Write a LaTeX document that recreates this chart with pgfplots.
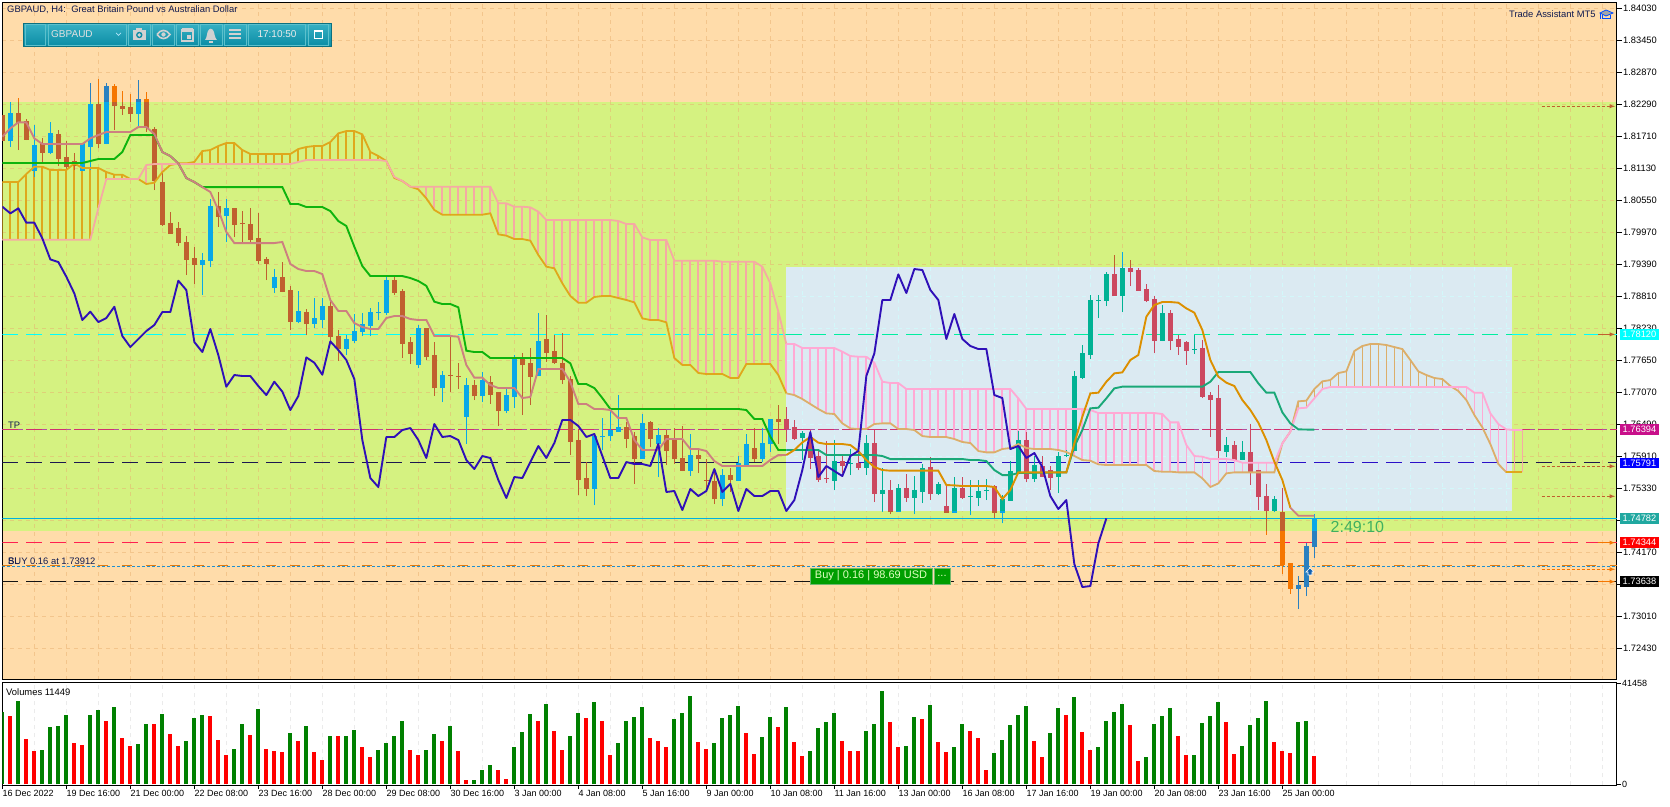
\documentclass[border=0pt]{standalone}
\usepackage{pgfplots}
\usepackage{pgfplotstable}
\usepackage{fontspec}
\setmainfont{Liberation Sans}
\pgfplotsset{compat=1.18}
\definecolor{bgor}{HTML}{FFDCAA}
\definecolor{bggr}{HTML}{D5F281}
\definecolor{bgrect}{HTML}{DBEAF2}
\definecolor{gridc}{HTML}{E8B070}
\definecolor{rgrid}{HTML}{D2F8FA}
\definecolor{gbull}{HTML}{09A8E8}
\definecolor{gbear}{HTML}{C0602F}
\definecolor{obull}{HTML}{2A80C0}
\definecolor{obear}{HTML}{F57600}
\definecolor{rbull}{HTML}{00B294}
\definecolor{rbear}{HTML}{CC4860}
\definecolor{chik}{HTML}{2F10B8}
\definecolor{tenk}{HTML}{CD8080}
\definecolor{tenkr}{HTML}{DC9000}
\definecolor{kij}{HTML}{0EB40E}
\definecolor{kijr}{HTML}{1AA878}
\definecolor{sgold}{HTML}{DFA81C}
\definecolor{stan}{HTML}{DCAE6A}
\definecolor{spink}{HTML}{F5AAA4}
\definecolor{spinkr}{HTML}{FFA9D4}
\definecolor{vgreen}{HTML}{008000}
\definecolor{vred}{HTML}{FF0000}
\definecolor{navytxt}{HTML}{101A50}
\definecolor{tba}{HTML}{3AB4C6}
\definecolor{tbb}{HTML}{0B8CA4}
\definecolor{tbc}{HTML}{0B7080}
\definecolor{tbd}{HTML}{34AEC2}
\definecolor{tbe}{HTML}{0D8EA6}
\definecolor{tbf}{HTML}{5CC0CC}
\definecolor{buyf}{HTML}{009E00}
\definecolor{buyd}{HTML}{70B870}
\definecolor{curs}{HTML}{1060B0}
\definecolor{cyanln}{HTML}{00FFFF}
\definecolor{cyanrc}{HTML}{00EEA0}
\definecolor{slnav}{HTML}{1C1850}
\definecolor{slblu}{HTML}{2A10C8}
\definecolor{tpa}{HTML}{B050A0}
\definecolor{tpb}{HTML}{D03070}
\definecolor{redln}{HTML}{FF2050}
\definecolor{blkln}{HTML}{141414}
\definecolor{buyo}{HTML}{E07A10}
\definecolor{buyb}{HTML}{2090D0}
\definecolor{curln}{HTML}{00B0E0}
\definecolor{cdtxt}{HTML}{40B060}
\definecolor{buytx}{HTML}{E0FFC0}
\pgfplotstableread{
x open high low close
0 1.82096 1.82096 1.81630 1.81630
1 1.81630 1.82331 1.81522 1.82132
2 1.82132 1.82398 1.81461 1.81969
3 1.81987 1.82023 1.81642 1.81660
4 1.81099 1.81914 1.80978 1.81552
5 1.81582 1.81679 1.81219 1.81425
6 1.81425 1.81969 1.81389 1.81769
7 1.81751 1.81824 1.81171 1.81316
8 1.81334 1.81624 1.81099 1.81171
9 1.81262 1.81401 1.81099 1.81189
10 1.81099 1.81582 1.81080 1.81582
11 1.81534 1.82670 1.81099 1.82295
12 1.82295 1.82742 1.81491 1.81588
13 1.81588 1.82670 1.81570 1.82621
14 1.82621 1.82657 1.81824 1.82259
15 1.82259 1.82531 1.82096 1.82222
16 1.82240 1.82476 1.81969 1.82132
17 1.82132 1.82730 1.81884 1.82386
18 1.82386 1.82512 1.81793 1.81878
19 1.81842 1.81884 1.80736 1.80917
20 1.80881 1.81038 1.80084 1.80120
21 1.80138 1.80337 1.79951 1.79957
22 1.80047 1.80156 1.79721 1.79794
23 1.79794 1.79902 1.79195 1.79485
24 1.79503 1.79703 1.79032 1.79395
25 1.79395 1.79594 1.78833 1.79467
26 1.79467 1.80573 1.79340 1.80446
27 1.80446 1.80700 1.80071 1.80265
28 1.80283 1.80573 1.79794 1.80410
29 1.80410 1.80410 1.79884 1.80120
30 1.80132 1.80355 1.79794 1.80131
31 1.80120 1.80410 1.79794 1.79848
32 1.79866 1.80319 1.79395 1.79467
33 1.79485 1.79522 1.79105 1.79413
34 1.78978 1.79304 1.78869 1.79159
35 1.79159 1.79431 1.78887 1.78905
36 1.78923 1.78996 1.78198 1.78362
37 1.78362 1.78905 1.78319 1.78543
38 1.78525 1.78573 1.78108 1.78325
39 1.78325 1.78773 1.78235 1.78416
40 1.78398 1.78773 1.78235 1.78634
41 1.78634 1.78742 1.77957 1.78090
42 1.78090 1.78198 1.77637 1.77872
43 1.77872 1.78108 1.77745 1.78035
44 1.78017 1.78488 1.77969 1.78180
45 1.78180 1.78507 1.78090 1.78307
46 1.78289 1.78597 1.78090 1.78525
47 1.78525 1.78706 1.78380 1.78525
48 1.78525 1.79195 1.78470 1.79105
49 1.79105 1.79195 1.78833 1.78887
50 1.78905 1.78942 1.77691 1.77963
51 1.77981 1.78072 1.77582 1.77782
52 1.77582 1.78289 1.77503 1.78235
53 1.78229 1.78229 1.77655 1.77716
54 1.77728 1.77981 1.77003 1.77148
55 1.77148 1.77456 1.76894 1.77383
56 1.77377 1.78108 1.77075 1.77376
57 1.77365 1.77601 1.77130 1.77364
58 1.76640 1.77329 1.76133 1.77202
59 1.77202 1.77293 1.76930 1.77003
60 1.77003 1.77438 1.76894 1.77275
61 1.77256 1.77365 1.76858 1.77039
62 1.77075 1.77075 1.76459 1.76731
63 1.76731 1.77166 1.76694 1.77003
64 1.76985 1.77746 1.76785 1.77691
65 1.77691 1.77782 1.76658 1.77565
66 1.77583 1.77873 1.76839 1.77365
67 1.77383 1.78507 1.77383 1.77999
68 1.78018 1.78471 1.77625 1.77800
69 1.77818 1.78108 1.77583 1.77601
70 1.77601 1.78145 1.77220 1.77293
71 1.77293 1.77365 1.75933 1.76187
72 1.76205 1.76386 1.75208 1.75498
73 1.75516 1.75806 1.75190 1.75335
74 1.75335 1.76296 1.75027 1.76260
75 1.76260 1.76604 1.76024 1.76260
76 1.76278 1.76731 1.76187 1.76386
77 1.76368 1.77021 1.76368 1.76441
78 1.76441 1.76531 1.76060 1.76241
79 1.76260 1.76350 1.75408 1.75861
80 1.75861 1.76676 1.75861 1.76513
81 1.76531 1.76549 1.76078 1.76241
82 1.76133 1.76423 1.75534 1.76296
83 1.76296 1.76386 1.75752 1.76024
84 1.76205 1.76423 1.75770 1.75861
85 1.75879 1.76459 1.75643 1.75661
86 1.75661 1.76314 1.75553 1.75933
87 1.75933 1.76024 1.75607 1.75861
88 1.75480 1.75861 1.75299 1.75479
89 1.75462 1.75679 1.75045 1.75136
90 1.75136 1.75679 1.75009 1.75553
91 1.75553 1.75698 1.75263 1.75498
92 1.75480 1.75915 1.75462 1.75788
93 1.75770 1.76314 1.75716 1.76115
94 1.76060 1.76423 1.75806 1.75861
95 1.75861 1.76423 1.75806 1.76151
96 1.76133 1.76586 1.75988 1.76586
97 1.76586 1.76839 1.76133 1.76549
98 1.76585 1.76803 1.76169 1.76422
99 1.76440 1.76567 1.76205 1.76241
100 1.76259 1.76368 1.75842 1.76332
101 1.76259 1.76386 1.75679 1.75897
102 1.75915 1.76024 1.75444 1.75498
103 1.75510 1.76187 1.75431 1.75509
104 1.75480 1.76205 1.75299 1.75824
105 1.75824 1.75915 1.75601 1.75752
106 1.75782 1.76036 1.75570 1.75782
107 1.75782 1.76024 1.75661 1.75715
108 1.75715 1.76295 1.75570 1.76150
109 1.76150 1.76386 1.75081 1.75244
110 1.75244 1.75697 1.74918 1.75299
111 1.75299 1.75480 1.74864 1.74918
112 1.74918 1.75407 1.74918 1.75335
113 1.75335 1.75589 1.75081 1.75172
114 1.75172 1.75552 1.74864 1.75299
115 1.75280 1.75770 1.75063 1.75697
116 1.75715 1.75897 1.75117 1.75244
117 1.75244 1.75444 1.75208 1.75407
118 1.75009 1.75389 1.74900 1.74900
119 1.74900 1.75534 1.74900 1.75335
120 1.75335 1.75534 1.75135 1.75172
121 1.75184 1.75480 1.74845 1.75184
122 1.75172 1.75480 1.75009 1.75280
123 1.75299 1.75498 1.75117 1.75299
124 1.75371 1.75389 1.74791 1.74900
125 1.74900 1.75208 1.74694 1.75129
126 1.75117 1.75824 1.75117 1.75643
127 1.75625 1.76368 1.75601 1.76205
128 1.76205 1.76350 1.75444 1.75516
129 1.75516 1.75915 1.75444 1.75752
130 1.75734 1.75915 1.75552 1.75552
131 1.75661 1.75734 1.75299 1.75534
132 1.75552 1.75987 1.75238 1.75915
133 1.75933 1.76024 1.75897 1.75933
134 1.76024 1.77456 1.76024 1.77365
135 1.77347 1.77927 1.77310 1.77782
136 1.77764 1.78833 1.77673 1.78742
137 1.78742 1.78833 1.78416 1.78742
138 1.78742 1.79250 1.78634 1.79214
139 1.79214 1.79558 1.78833 1.78833
140 1.78833 1.79612 1.78525 1.79322
141 1.79322 1.79467 1.78996 1.79268
142 1.79286 1.79322 1.78924 1.78924
143 1.78942 1.79032 1.78706 1.78742
144 1.78761 1.78815 1.77782 1.78017
145 1.78017 1.78652 1.77999 1.78507
146 1.78507 1.78561 1.77836 1.78017
147 1.78036 1.78108 1.77746 1.77909
148 1.77981 1.77999 1.77564 1.77836
149 1.77854 1.78108 1.77764 1.77854
150 1.77872 1.78017 1.76966 1.77002
151 1.77020 1.77075 1.76259 1.76948
152 1.76966 1.77202 1.75842 1.76024
153 1.76005 1.76259 1.75897 1.76114
154 1.76114 1.76187 1.75842 1.75860
155 1.75860 1.76187 1.75842 1.75987
156 1.75987 1.76495 1.75389 1.75643
157 1.75661 1.75661 1.74936 1.75190
158 1.75190 1.75407 1.74483 1.74936
159 1.74936 1.75190 1.74900 1.75135
160 1.74900 1.75335 1.73776 1.73957
161 1.73975 1.73975 1.73413 1.73522
162 1.73522 1.73740 1.73142 1.73570
163 1.73558 1.74338 1.73377 1.74283
164 1.74271 1.74864 1.74066 1.74782
}\candles
\pgfplotstableread{
x y
0 1.80434
1 1.80313
2 1.80404
3 1.80144
4 1.80144
5 1.79860
6 1.79479
7 1.79431
8 1.79165
9 1.78863
10 1.78380
11 1.78531
12 1.78343
13 1.78416
14 1.78621
15 1.78090
16 1.77890
17 1.78035
18 1.78180
19 1.78289
20 1.78525
21 1.78525
22 1.79093
23 1.78923
24 1.77981
25 1.77800
26 1.78217
27 1.77745
28 1.77171
29 1.77383
30 1.77365
31 1.77365
32 1.77183
33 1.77020
34 1.77262
35 1.77081
36 1.76748
37 1.77002
38 1.77703
39 1.77606
40 1.77389
41 1.77993
42 1.77836
43 1.77655
44 1.77310
45 1.76205
46 1.75516
47 1.75353
48 1.76259
49 1.76259
50 1.76386
51 1.76422
52 1.76205
53 1.75879
54 1.76495
55 1.76260
56 1.76278
57 1.76205
58 1.75843
59 1.75679
60 1.75915
61 1.75879
62 1.75480
63 1.75154
64 1.75534
65 1.75516
66 1.75806
67 1.76096
68 1.75879
69 1.76151
70 1.76568
71 1.76568
72 1.76459
73 1.76260
74 1.76314
75 1.75915
76 1.75516
77 1.75516
78 1.75806
79 1.75770
80 1.75770
81 1.75734
82 1.76133
83 1.75263
84 1.75281
85 1.74936
86 1.75317
87 1.75190
88 1.75281
89 1.75679
90 1.75263
91 1.75408
92 1.74918
93 1.75317
94 1.75190
95 1.75190
96 1.75281
97 1.75281
98 1.74918
99 1.75117
100 1.75661
101 1.76350
102 1.75534
103 1.75734
104 1.75643
105 1.75552
106 1.75915
107 1.76005
108 1.77365
109 1.77776
110 1.78742
111 1.78742
112 1.79208
113 1.78869
114 1.79304
115 1.79286
116 1.78924
117 1.78742
118 1.78036
119 1.78489
120 1.78036
121 1.77909
122 1.77854
123 1.77854
124 1.77020
125 1.76966
126 1.76042
127 1.76096
128 1.75879
129 1.75969
130 1.75715
131 1.75190
132 1.74954
133 1.75117
134 1.73957
135 1.73540
136 1.73558
137 1.74332
138 1.74785
}\chikou
\pgfplotstableread{
x y
0 1.81703
1 1.81854
2 1.81963
3 1.81963
4 1.81673
5 1.81570
10 1.81570
11 1.81673
12 1.81733
13 1.81787
16 1.81787
17 1.81878
18 1.81878
19 1.81751
20 1.81425
21 1.81352
22 1.81219
23 1.80954
24 1.80881
25 1.80790
26 1.80700
27 1.80374
28 1.79975
29 1.79775
34 1.79775
35 1.79794
36 1.79395
37 1.79304
38 1.79268
39 1.79268
40 1.79213
41 1.78742
42 1.78543
43 1.78543
44 1.78325
45 1.78253
46 1.78217
47 1.78217
48 1.78416
49 1.78452
50 1.78452
51 1.78398
52 1.78380
53 1.78380
54 1.78090
56 1.78090
57 1.78078
58 1.77565
59 1.77335
60 1.77335
61 1.77202
62 1.77148
64 1.77148
65 1.76966
66 1.76985
67 1.77492
70 1.77492
71 1.77256
72 1.76858
73 1.76858
74 1.76767
75 1.76767
76 1.76749
77 1.76604
78 1.76604
79 1.76205
80 1.76024
82 1.76024
83 1.76223
85 1.76223
86 1.76042
87 1.76042
88 1.76006
89 1.75824
90 1.75734
95 1.75734
96 1.75843
97 1.75933
98 1.75933
99 1.76024
100 1.76162
101 1.76259
102 1.76157
103 1.76132
105 1.76132
106 1.76114
107 1.76005
108 1.75842
109 1.75715
110 1.75661
111 1.75649
117 1.75649
118 1.75389
119 1.75383
120 1.75371
123 1.75371
124 1.75353
125 1.75135
126 1.75299
127 1.75619
133 1.75619
134 1.76144
135 1.76628
136 1.77051
137 1.77063
138 1.77262
139 1.77413
140 1.77431
141 1.77655
142 1.77746
143 1.78440
144 1.78652
145 1.78706
146 1.78706
147 1.78694
148 1.78591
149 1.78513
150 1.78199
151 1.77655
152 1.77353
153 1.77244
154 1.77184
155 1.76930
156 1.76749
157 1.76519
158 1.76205
159 1.75812
160 1.75480
161 1.74978
162 1.74833
164 1.74833
}\tenkan
\pgfplotstableread{
x y
0 1.81226
10 1.81226
11 1.81262
12 1.81298
14 1.81298
15 1.81425
16 1.81733
19 1.81733
20 1.81425
21 1.81352
22 1.81219
23 1.80954
24 1.80881
25 1.80790
35 1.80790
36 1.80482
37 1.80482
38 1.80428
40 1.80428
41 1.80355
42 1.80174
43 1.80084
44 1.79709
45 1.79358
46 1.79177
50 1.79177
51 1.79141
52 1.79087
53 1.78999
54 1.78712
55 1.78670
56 1.78670
57 1.78610
58 1.77824
59 1.77800
60 1.77800
61 1.77691
70 1.77691
71 1.77595
72 1.77220
73 1.77220
74 1.77148
75 1.76966
76 1.76767
92 1.76767
93 1.76749
94 1.76586
95 1.76586
96 1.76265
97 1.76024
98 1.76024
102 1.76024
103 1.75933
109 1.75933
110 1.75915
111 1.75860
120 1.75860
121 1.75842
122 1.75842
123 1.75824
124 1.75661
125 1.75570
126 1.75570
127 1.75607
133 1.75619
134 1.76084
135 1.76386
136 1.76779
137 1.76791
138 1.76960
139 1.77141
140 1.77172
150 1.77172
151 1.77262
152 1.77437
156 1.77437
157 1.77232
158 1.77063
159 1.77063
160 1.76706
161 1.76507
162 1.76398
164 1.76392
}\kijun
\pgfplotstableread{
x a b
0 1.80881 1.79836
1 1.80881 1.79836
2 1.80881 1.79836
3 1.81026 1.79836
4 1.81159 1.79836
5 1.81159 1.79836
6 1.81099 1.79836
7 1.81099 1.79836
8 1.81099 1.79836
9 1.81219 1.79836
10 1.81135 1.79836
11 1.81135 1.79836
12 1.81135 1.80404
13 1.81062 1.80936
14 1.81014 1.80936
15 1.81014 1.80936
16 1.80936 1.80936
17 1.80936 1.80936
18 1.80845 1.81189
19 1.80869 1.81207
20 1.81062 1.81207
21 1.81189 1.81207
22 1.81219 1.81207
23 1.81219 1.81207
24 1.81244 1.81207
25 1.81443 1.81207
26 1.81461 1.81207
27 1.81534 1.81207
28 1.81588 1.81207
29 1.81588 1.81207
30 1.81461 1.81207
31 1.81389 1.81207
32 1.81389 1.81207
33 1.81389 1.81207
34 1.81389 1.81207
35 1.81389 1.81207
36 1.81389 1.81207
37 1.81479 1.81244
38 1.81516 1.81280
39 1.81534 1.81280
40 1.81534 1.81280
41 1.81606 1.81280
42 1.81763 1.81280
43 1.81805 1.81280
44 1.81805 1.81280
45 1.81745 1.81280
46 1.81425 1.81280
47 1.81352 1.81280
48 1.81262 1.81262
49 1.80954 1.80972
50 1.80900 1.80900
51 1.80797 1.80797
52 1.80749 1.80797
53 1.80585 1.80797
54 1.80374 1.80797
55 1.80289 1.80797
56 1.80289 1.80797
57 1.80289 1.80797
58 1.80289 1.80797
59 1.80289 1.80797
60 1.80289 1.80797
61 1.80314 1.80797
62 1.79933 1.80495
63 1.79909 1.80495
64 1.79848 1.80434
65 1.79848 1.80434
66 1.79818 1.80422
67 1.79558 1.80344
68 1.79347 1.80193
69 1.79317 1.80193
70 1.79045 1.80193
71 1.78815 1.80193
72 1.78694 1.80193
73 1.78694 1.80193
74 1.78797 1.80193
75 1.78815 1.80193
76 1.78815 1.80193
77 1.78779 1.80175
78 1.78743 1.80120
79 1.78700 1.80120
80 1.78410 1.79878
81 1.78380 1.79830
82 1.78380 1.79830
83 1.78338 1.79830
84 1.77691 1.79456
85 1.77565 1.79456
86 1.77565 1.79456
87 1.77420 1.79456
88 1.77401 1.79456
89 1.77401 1.79456
90 1.77401 1.79437
91 1.77329 1.79437
92 1.77329 1.79437
93 1.77583 1.79437
94 1.77583 1.79437
95 1.77583 1.79347
96 1.77583 1.79045
97 1.77383 1.78531
98 1.77051 1.77945
99 1.77020 1.77945
100 1.76948 1.77872
101 1.76857 1.77872
102 1.76767 1.77872
103 1.76688 1.77872
104 1.76676 1.77872
105 1.76507 1.77806
106 1.76416 1.77727
107 1.76404 1.77715
108 1.76404 1.77715
109 1.76495 1.77607
110 1.76507 1.77262
111 1.76507 1.77238
112 1.76404 1.77238
113 1.76404 1.77129
114 1.76386 1.77129
115 1.76277 1.77129
116 1.76259 1.77129
117 1.76259 1.77129
118 1.76259 1.77129
119 1.76223 1.77129
120 1.76169 1.77129
121 1.76150 1.77129
122 1.76005 1.77129
123 1.75981 1.77129
124 1.75981 1.77129
125 1.76042 1.77129
126 1.76060 1.77129
127 1.76132 1.76960
128 1.76060 1.76767
129 1.76042 1.76767
130 1.76042 1.76767
131 1.76042 1.76767
132 1.76024 1.76767
133 1.75987 1.76767
134 1.75915 1.76767
135 1.75842 1.76767
136 1.75830 1.76749
137 1.75764 1.76694
138 1.75752 1.76694
139 1.75752 1.76694
140 1.75752 1.76694
141 1.75752 1.76694
142 1.75752 1.76694
143 1.75752 1.76694
144 1.75643 1.76694
145 1.75631 1.76676
146 1.75631 1.76525
147 1.75619 1.76525
148 1.75619 1.76114
149 1.75619 1.75915
150 1.75510 1.75903
151 1.75353 1.75860
152 1.75419 1.75860
153 1.75601 1.75860
154 1.75619 1.75842
155 1.75619 1.75794
156 1.75619 1.75794
157 1.75619 1.75794
158 1.75619 1.75794
159 1.75619 1.75794
160 1.76144 1.76144
161 1.76356 1.76356
162 1.76906 1.76779
163 1.76918 1.76791
164 1.77129 1.76960
165 1.77268 1.77129
166 1.77292 1.77166
167 1.77419 1.77166
168 1.77449 1.77166
169 1.77818 1.77166
170 1.77909 1.77166
171 1.77945 1.77166
172 1.77945 1.77166
173 1.77927 1.77166
174 1.77890 1.77166
175 1.77854 1.77166
176 1.77655 1.77166
177 1.77449 1.77166
178 1.77383 1.77166
179 1.77329 1.77166
180 1.77310 1.77166
181 1.77184 1.77166
182 1.77093 1.77166
183 1.76930 1.77166
184 1.76658 1.77063
185 1.76434 1.77063
186 1.76132 1.76688
187 1.75770 1.76495
188 1.75619 1.76398
189 1.75619 1.76386
190 1.75619 1.76386
}\cloud
\pgfplotstableread{
x v g
0 29784 1
1 28152 0
2 34272 1
3 18768 0
4 13464 0
5 14280 1
6 23664 1
7 24072 1
8 28560 1
9 17136 0
10 16320 0
11 28560 1
12 30600 1
13 26112 0
14 31824 1
15 19176 0
16 15912 0
17 16728 1
18 24888 1
19 24888 0
20 28968 1
21 20808 0
22 15912 0
23 17952 1
24 27336 1
25 28560 1
26 28152 0
27 18360 0
28 11832 0
29 14688 1
30 24888 1
31 20400 0
32 31008 1
33 14688 0
34 13872 0
35 13056 0
36 21216 1
37 17952 0
38 24072 1
39 13056 0
40 9792 0
41 19992 1
42 19992 0
43 19992 1
44 22440 1
45 15504 0
46 11016 0
47 14280 1
48 17136 1
49 19992 1
50 26112 1
51 14280 0
52 11832 0
53 14280 1
54 20808 1
55 17952 0
56 24072 1
57 13464 0
58 1632 0
59 1632 1
60 5712 1
61 7752 1
62 5712 0
63 2040 0
64 15504 1
65 21624 1
66 28968 1
67 26112 0
68 33048 1
69 22032 0
70 14280 0
71 19992 1
72 29376 1
73 27336 0
74 33864 1
75 26112 0
76 11832 0
77 17136 1
78 26112 1
79 27744 1
80 31824 1
81 19176 0
82 17952 0
83 15504 0
84 26928 1
85 29376 1
86 36312 1
87 17544 0
88 14688 0
89 17136 1
90 27336 1
91 28560 1
92 32232 1
93 21216 0
94 12240 0
95 19584 1
96 27744 1
97 23664 0
98 31824 1
99 17544 0
100 11424 0
101 13464 1
102 23256 1
103 25704 1
104 29376 1
105 17952 0
106 13464 0
107 13464 0
108 22032 1
109 24888 1
110 38352 1
111 25704 0
112 15504 0
113 15912 1
114 27744 1
115 26928 0
116 32640 1
117 17544 0
118 13056 0
119 15504 1
120 24888 1
121 22032 0
122 19176 0
123 5712 0
124 12648 1
125 18360 1
126 24480 1
127 28560 1
128 32232 1
129 17952 0
130 11016 0
131 21216 1
132 31416 1
133 28560 0
134 35904 1
135 21624 0
136 14280 0
137 15504 1
138 26112 1
139 29784 1
140 33048 1
141 24480 0
142 9384 0
143 11016 1
144 24888 1
145 28152 1
146 31416 1
147 19992 0
148 11832 0
149 11832 1
150 25296 1
151 28152 1
152 33864 1
153 25704 0
154 12240 0
155 15912 1
156 24480 1
157 27336 1
158 34272 1
159 17544 0
160 13464 0
161 12648 0
162 25704 1
163 26112 1
164 11424 0
}\vols
% one colour of one kind of candle, cut to a price band
\newcommand{\candlepart}[6]{%
 \addplot[draw=none, no marks, forget plot, restrict x to domain=#2:#3,
   restrict expr to domain={\thisrow{close}-\thisrow{open}}{#6},
   error bars/.cd, y dir=plus, y explicit, error mark=none,
   error bar style={draw=#1, solid, line width=1pt}]
   table[x=x, y expr={max(\thisrow{low},#4)},
     y error expr={max(min(\thisrow{high},#5)-max(\thisrow{low},#4),0)}] \candles;
 \addplot[draw=none, no marks, forget plot, restrict x to domain=#2:#3,
   restrict expr to domain={\thisrow{close}-\thisrow{open}}{#6},
   error bars/.cd, y dir=plus, y explicit, error mark=none,
   error bar style={draw=#1, solid, line width=5pt}]
   table[x=x, y expr={max(min(\thisrow{open},\thisrow{close})-0.00009,#4)},
     y error expr={max(min(max(\thisrow{open},\thisrow{close})+0.00009,#5)-max(min(\thisrow{open},\thisrow{close})-0.00009,#4),0)}] \candles;
}
\newcommand{\candleset}[6]{%
 \candlepart{#1}{#3}{#4}{#5}{#6}{0:1}
 \candlepart{#2}{#3}{#4}{#5}{#6}{-1:-0.000001}
}
\newcommand{\hatch}[4]{%
 \addplot[draw=none, no marks, forget plot, restrict x to domain=#2:#3,
   restrict expr to domain={\thisrow{a}-\thisrow{b}}{#4},
   error bars/.cd, y dir=plus, y explicit, error mark=none,
   error bar style={draw=#1, solid, line width=1.7pt}]
   table[x=x, y expr={min(\thisrow{a},\thisrow{b})},
     y error expr={abs(\thisrow{a}-\thisrow{b})}] \cloud;
}
\pgfplotsset{
 panel/.style={anchor=south west, scale only axis, width=1614.67pt, xmin=0, xmax=201.83},
 mainy/.style={at={(2.33pt,126pt)}, height=677.7pt, ymin=1.718554, ymax=1.841388},
}
\begin{document}
\begin{tikzpicture}[x=1pt,y=1pt]
\path[use as bounding box, fill=white] (0,0) rectangle (1670,806);
% ---- background, grid, price axis
\begin{axis}[panel, mainy, axis on top, axis background/.style={fill=bgor},
  axis line style={line width=1pt},
  xtick={4,8,...,200}, xticklabels={}, x tick style={draw=none},
  ytick={1.8403,1.8345,1.8287,1.8229,1.8171,1.8113,1.8055,1.7997,1.7939,1.7881,1.7823,1.7765,1.7707,1.7649,1.7591,1.7533,1.7475,1.7417,1.7359,1.7301,1.7243},
  yticklabels={1.84030,1.83450,1.82870,1.82290,1.81710,1.81130,1.80550,1.79970,1.79390,1.78810,1.78230,1.77650,1.77070,1.76490,1.75910,1.75330,1.74750,1.74170,1.73590,1.73010,1.72430},
  ytick pos=right, yticklabel pos=right, tick align=outside, major tick length=5pt,
  y tick style={black, line width=1pt},
  yticklabel style={font=\fontsize{9.3}{10}\selectfont, anchor=west, inner sep=0pt, xshift=1pt},
  grid=major, major grid style={draw=gridc, opacity=.5, line width=.8pt, dash pattern=on 4pt off 4pt}]
 \addplot[fill=bggr, draw=none] coordinates {(0,1.82332)(201.83,1.82332)(201.83,1.74556)(0,1.74556)} -- cycle;
\end{axis}
% ---- price plots
\begin{axis}[panel, mainy, hide axis]
 \addplot[fill=bgrect, draw=none, forget plot] coordinates {(98,1.79336)(188.7,1.79336)(188.7,1.74924)(98,1.74924)} -- cycle;
 \addplot[draw=none, no marks, forget plot, error bars/.cd, y dir=plus, y fixed=0.04412, error mark=none,
   error bar style={draw=rgrid, line width=.8pt, dash pattern=on 4pt off 4pt}]
   coordinates {(100,1.74924)(104,1.74924)(108,1.74924)(112,1.74924)(116,1.74924)(120,1.74924)(124,1.74924)(128,1.74924)(132,1.74924)(136,1.74924)(140,1.74924)(144,1.74924)(148,1.74924)(152,1.74924)(156,1.74924)(160,1.74924)(164,1.74924)(168,1.74924)(172,1.74924)(176,1.74924)(180,1.74924)(184,1.74924)(188,1.74924)};
 \addplot[draw=none, no marks, forget plot, error bars/.cd, x dir=plus, x fixed=90.7, error mark=none,
   error bar style={draw=rgrid, line width=.8pt, dash pattern=on 4pt off 4pt}]
   coordinates {(98,1.7881)(98,1.7823)(98,1.7765)(98,1.7707)(98,1.7649)(98,1.7591)(98,1.7533)};
 % horizontal levels under the candles
 \addplot[draw=cyanln, line width=1pt, dash pattern=on 16pt off 8pt] coordinates {(0,1.7812)(98,1.7812)};
 \addplot[draw=cyanrc, line width=1pt, dash pattern=on 16pt off 8pt] coordinates {(98,1.7812)(188.7,1.7812)};
 \addplot[draw=cyanln, line width=1pt, dash pattern=on 16pt off 8pt] coordinates {(188.7,1.7812)(201.83,1.7812)};
 \addplot[draw=slnav, line width=1pt, dash pattern=on 16pt off 8pt] coordinates {(0,1.75791)(98,1.75791)};
 \addplot[draw=slblu, line width=1pt, dash pattern=on 16pt off 8pt] coordinates {(98,1.75791)(188.7,1.75791)};
 \addplot[draw=slnav, line width=1pt, dash pattern=on 16pt off 8pt] coordinates {(188.7,1.75791)(201.83,1.75791)};
 \addplot[draw=tpa, line width=.8pt, dash pattern=on 21pt off 3pt] coordinates {(0,1.76394)(201.83,1.76394)};
 \addplot[draw=tpb, line width=1.5pt, dash pattern=on 16pt off 8pt] coordinates {(0,1.76394)(201.83,1.76394)};
 \addplot[draw=redln, line width=1pt, dash pattern=on 16pt off 8pt] coordinates {(0,1.74344)(201.83,1.74344)};
 \addplot[draw=blkln, line width=1pt, dash pattern=on 16pt off 8pt] coordinates {(0,1.73638)(201.83,1.73638)};
 \addplot[draw=buyo, line width=1.2pt, dash pattern=on 10pt off 14pt] coordinates {(0,1.73925)(201.83,1.73925)};
 \addplot[draw=buyb, line width=.9pt, dash pattern=on 3pt off 2pt] coordinates {(0,1.73905)(201.83,1.73905)};
 \addplot[draw=curln, line width=1pt] coordinates {(0,1.74782)(201.83,1.74782)};
 % cloud hatching
 \hatch{sgold}{0}{97.5}{0:1}
 \hatch{spink}{0}{97.5}{-1:-0.000001}
 \hatch{stan}{97.5}{188.5}{0:1}
 \hatch{spinkr}{97.5}{188.5}{-1:-0.000001}
 \hatch{spink}{188.5}{191}{-1:-0.000001}
 % candles, coloured by the zone they stand in
 \candleset{obull}{obear}{0}{165}{1.82332}{2}
 \candleset{obull}{obear}{0}{165}{1.6}{1.74556}
 \candleset{gbull}{gbear}{0}{97.5}{1.74556}{1.82332}
 \candleset{rbull}{rbear}{97.5}{165}{1.74924}{1.79336}
 \candleset{gbull}{gbear}{97.5}{165}{1.79336}{1.82332}
 \candleset{gbull}{gbear}{97.5}{165}{1.74556}{1.74924}
 % cloud edges
 \addplot[draw=sgold, line width=1.8pt, restrict x to domain=0:98] table[x=x,y=a] \cloud;
 \addplot[draw=stan, line width=1.8pt, restrict x to domain=98:188] table[x=x,y=a] \cloud;
 \addplot[draw=sgold, line width=1.8pt, restrict x to domain=188:190] table[x=x,y=a] \cloud;
 \addplot[draw=spink, line width=1.8pt, restrict x to domain=0:98] table[x=x,y=b] \cloud;
 \addplot[draw=spinkr, line width=1.8pt, restrict x to domain=98:190] table[x=x,y=b] \cloud;
 % Tenkan, Kijun, Chikou
 \addplot[draw=kij, line width=1.9pt, restrict x to domain=0:98] table[x=x,y=y] \kijun;
 \addplot[draw=kijr, line width=1.9pt, restrict x to domain=98:164] table[x=x,y=y] \kijun;
 \addplot[draw=tenk, line width=1.9pt, restrict x to domain=0:98] table[x=x,y=y] \tenkan;
 \addplot[draw=tenkr, line width=1.9pt, restrict x to domain=98:161] table[x=x,y=y] \tenkan;
 \addplot[draw=tenk, line width=1.9pt, restrict x to domain=161:164] table[x=x,y=y] \tenkan;
 \addplot[draw=chik, line width=1.9pt, line join=round] table[x=x,y=y] \chikou;
 % arrows at the right
 \addplot[draw=gbear, line width=.9pt, dash pattern=on 3pt off 2pt, -latex] coordinates {(192.4,1.82254)(201.6,1.82254)};
 \addplot[draw=gbear, line width=.9pt, dash pattern=on 3pt off 2pt, -latex] coordinates {(192.4,1.75729)(201.6,1.75729)};
 \addplot[draw=gbear, line width=.9pt, dash pattern=on 3pt off 2pt, -latex] coordinates {(192.4,1.75185)(201.6,1.75185)};
 \addplot[draw=obear, line width=.9pt, dash pattern=on 3pt off 2pt, -latex] coordinates {(192.4,1.73862)(201.6,1.73862)};
 \addplot[draw=gbear, line width=.9pt, -latex] coordinates {(199.5,1.7812)(201.6,1.7812)};
 \addplot[draw=obear, line width=.9pt, -latex] coordinates {(199.5,1.74344)(201.6,1.74344)};
 \addplot[draw=obear, line width=.9pt, -latex] coordinates {(199.5,1.73638)(201.6,1.73638)};
\end{axis}
% ---- volumes
\begin{axis}[panel, at={(2.33pt,21pt)}, height=103pt, ymin=-290, ymax=41990,
  scaled y ticks=false,
  axis line style={line width=1pt},
  xtick={0,8,...,160},
  xticklabels={16 Dec 2022,19 Dec 16:00,21 Dec 00:00,22 Dec 08:00,23 Dec 16:00,28 Dec 00:00,29 Dec 08:00,30 Dec 16:00,3 Jan 00:00,4 Jan 08:00,5 Jan 16:00,9 Jan 00:00,10 Jan 08:00,11 Jan 16:00,13 Jan 00:00,16 Jan 08:00,17 Jan 16:00,19 Jan 00:00,20 Jan 08:00,23 Jan 16:00,25 Jan 00:00},
  minor xtick={4,12,...,156,164,168,...,200},
  xmajorgrids, xminorgrids,
  major grid style={draw=black!8, line width=.8pt, dash pattern=on 4pt off 4pt},
  minor grid style={draw=black!8, line width=.8pt, dash pattern=on 4pt off 4pt},
  minor tick length=0pt, major tick length=4pt, tick align=outside,
  xtick pos=bottom, ytick pos=right, yticklabel pos=right,
  tick style={black, line width=1pt},
  ytick={0,41458}, yticklabels={0,41458},
  yticklabel style={font=\fontsize{9}{10}\selectfont, anchor=west, inner sep=0pt, xshift=1pt},
  xticklabel style={font=\fontsize{9}{10}\selectfont, anchor=north west, inner sep=0pt, xshift=0pt, yshift=-1pt}]
 \addplot[ycomb, draw=vgreen, line width=4pt, restrict expr to domain={\thisrow{g}}{0.5:1.5}] table[x=x,y=v] \vols;
 \addplot[ycomb, draw=vred, line width=4pt, restrict expr to domain={\thisrow{g}}{-0.5:0.5}] table[x=x,y=v] \vols;
\end{axis}
% ---- annotations, in image pixels from the top left
\begin{scope}[shift={(0,806)}, x=1pt, y=-1pt, font=\fontsize{9.4}{10}\selectfont]
 \node[anchor=west, inner sep=0pt, text=navytxt] at (7,10) {GBPAUD, H4:\ \ Great Britain Pound vs Australian Dollar};
 \node[anchor=west, inner sep=0pt, text=navytxt] at (1509,14) {Trade Assistant MT5};
 \fill[gray!70] (1600,13) -- (1606,10) -- (1613,13) -- (1606,16) -- cycle;
 \draw[blue!70!cyan, line width=.8pt] (1600,13) -- (1606,10) -- (1613,13) -- (1606,16) -- cycle;
 \draw[blue!70!cyan, line width=.8pt] (1602,15) -- (1602,18) -- (1610,18) -- (1610,15) (1600,13) -- (1600,19);
 \node[anchor=west, inner sep=0pt, text=navytxt] at (8,425) {TP};
 \node[anchor=west, inner sep=0pt, text=navytxt] at (8,561) {BUY 0.16 at 1.73912};
 \node[anchor=west, inner sep=0pt, text=navytxt] at (8,561) {SL};
 \node[anchor=west, inner sep=0pt] at (6,692) {Volumes 11449};
 % toolbar
 \shade[top color=tba, bottom color=tbb, draw=tbc] (23.3,23.3) rectangle (330.7,46.7);
 \foreach \a/\b in {25/45.7,48.3/126,128.3/150,152.3/174,176.3/198,200.3/222,224.3/246,248.3/305.7,308.3/328.3}
   {\shade[top color=tbd, bottom color=tbe, draw=tbf, line width=.6pt] (\a,24.8) rectangle (\b,45.2);}
 \node[anchor=west, inner sep=0pt, text=black!12, font=\fontsize{10}{11}\selectfont] at (51,34.5) {GBPAUD};
 \draw[white!70!cyan, line width=.7pt] (116,33) -- (118.5,35.5) -- (121,33);
 \fill[black!18] (132.5,30) rectangle (146,40.5);
 \fill[black!18] (136,28) rectangle (142,30);
 \fill[tbb] (139.3,35) circle (3.2);
 \fill[black!18] (139.3,35) circle (1.9);
 \draw[black!18, line width=1.6pt] (157,34.5) .. controls (161,29) and (166,29) .. (170,34.5) .. controls (166,40) and (161,40) .. (157,34.5);
 \fill[black!18] (163.5,34.5) circle (2.2);
 \draw[black!18, line width=1.4pt] (181.5,29.5) rectangle (193,41);
 \fill[black!18] (181.5,28.5) rectangle (193,32);
 \fill[black!18] (187,35) rectangle (191,39);
 \fill[black!18] (205,40) .. controls (207,38) and (207,32) .. (208,31) .. controls (209.5,28) and (212,28) .. (213.5,31) .. controls (214.5,32) and (214.5,38) .. (217,40) -- cycle;
 \fill[black!18] (209,41) rectangle (213,43);
 \draw[black!18, line width=1.4pt] (229,30) -- (241,30) (229,34) -- (241,34) (229,38) -- (241,38);
 \node[text=black!8, inner sep=0pt, font=\fontsize{10}{11}\selectfont] at (277,34.5) {17:10:50};
 \draw[white, line width=1pt] (314,30.5) rectangle (322,38.5);
 \draw[white, line width=1.8pt] (314,30.8) -- (322,30.8);
 % order label
 \fill[buyf] (810.7,568) rectangle (932,584);
 \draw[buyd, line width=.7pt] (810.7,568) rectangle (932,584);
 \node[text=buytx, inner sep=0pt, font=\fontsize{11}{12}\selectfont] at (871,576) {Buy | 0.16 | 98.69 USD};
 \fill[buyf] (934,568) rectangle (950,584);
 \draw[buyd, line width=.7pt] (934,568) rectangle (950,584);
 \node[text=buytx, inner sep=0pt, font=\fontsize{11}{12}\selectfont] at (942,576) {...};
 % countdown and cursor
 \node[anchor=west, inner sep=0pt, text=cdtxt, font=\fontsize{16}{18}\selectfont] at (1330.5,527) {2:49:10};
 \fill[curs, draw=white, line width=.6pt] (1310,568) -- (1314,572) -- (1312,572) -- (1312,575) -- (1308,575) -- (1308,572) -- (1306,572) -- cycle;
 % last value labels
 \foreach \yy/\cc/\lbl in {334.4/00FFFF/1.78120,429.6/C8108A/1.76394,462.9/0000FF/1.75791,518.6/20A8A0/1.74782,542.8/FF0000/1.74344,581.7/000000/1.73638}
  {\definecolor{lab}{HTML}{\cc}
   \fill[lab] (1620,\yy-5.3) rectangle (1659,\yy+5.3);
   \node[text=white, inner sep=0pt, font=\fontsize{9.3}{10}\selectfont] at (1639.5,\yy) {\lbl};}
\end{scope}
\end{tikzpicture}
\end{document}
